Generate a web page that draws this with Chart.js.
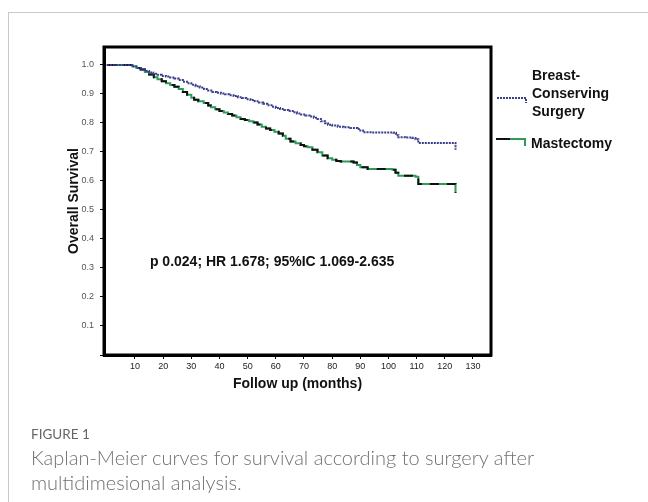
<!DOCTYPE html>
<html>
<head>
<meta charset="utf-8">
<script src="https://cdn.jsdelivr.net/npm/chart.js@4.4.1/dist/chart.umd.min.js"></script>
<style>
  html, body { margin: 0; padding: 0; background: #fff; }
  body { width: 648px; height: 502px; position: relative; overflow: hidden; }
  #frame { position: absolute; left: 8px; top: 12px; width: 700px; height: 600px; border-left: 1px solid #c8c8c8; border-top: 1px solid #c8c8c8; }
  #chart { position: absolute; left: 0; top: 0; }
  .leg { position: absolute; font: bold 14px "Liberation Sans", Arial, sans-serif; color: #111; line-height: 18px; }
  .cap1 { position: absolute; left: 31px; top: 426px; font: 13.5px "Lato", "Open Sans", sans-serif; color: #666; }
  .cap2 { position: absolute; left: 31px; top: 445px; font: 300 20px "Lato", "Open Sans", sans-serif; color: #717171; line-height: 25px; width: 580px; }
</style>
</head>
<body>
<div id="frame"></div>
<canvas id="chart" width="648" height="502"></canvas>
<div class="leg" style="left:532px; top:66px;">Breast-<br>Conserving<br>Surgery</div>
<div class="leg" style="left:531px; top:134px;">Mastectomy</div>
<div class="cap1">FIGURE 1</div>
<div class="cap2">Kaplan-Meier curves for survival according to surgery after<br>multidimesional analysis.</div>
<script>
// Kaplan-Meier curves (month, survival)
const bcsMonths = [0, 7.5, 9, 10.5, 12, 13.5, 15, 16.5, 18, 19.5, 21, 22.5, 24, 25.5, 27, 28.5, 30, 31.5, 33, 34.5, 36, 37.5, 39, 40.5, 42, 43.5, 45, 46.5, 48, 49.5, 51, 52.5, 54, 55.5, 57, 58.5, 60, 61.5, 63, 64.5, 66, 67.5, 69, 70.5, 72, 73.5, 74.8, 76, 77.5, 78.5, 80, 82, 84, 86.5, 89, 90, 91, 94, 98, 101.8, 102.7, 103.5, 106, 108.5, 109.6, 110.6, 115, 123.8, 123.8];
const bcsSurvival = [1.0, 1.0, 0.995, 0.99, 0.985, 0.979, 0.974, 0.97, 0.966, 0.962, 0.96, 0.957, 0.953, 0.948, 0.942, 0.937, 0.932, 0.927, 0.922, 0.917, 0.912, 0.907, 0.904, 0.902, 0.899, 0.896, 0.893, 0.889, 0.886, 0.882, 0.879, 0.875, 0.871, 0.866, 0.861, 0.856, 0.852, 0.848, 0.845, 0.841, 0.837, 0.833, 0.829, 0.826, 0.822, 0.818, 0.814, 0.806, 0.799, 0.794, 0.791, 0.787, 0.785, 0.783, 0.779, 0.774, 0.768, 0.767, 0.767, 0.766, 0.758, 0.751, 0.75, 0.748, 0.744, 0.731, 0.731, 0.731, 0.708];

const mastMonths = [0, 7.5, 9, 10.5, 12, 13.5, 15, 16.7, 18, 19.5, 21, 22.5, 24, 25.5, 27, 28.5, 30, 31, 32.5, 34.4, 36, 37, 38.5, 40, 41.5, 43, 44.5, 46, 47.5, 49, 50.5, 52, 53.5, 55, 56.5, 58, 59.5, 61, 62.5, 63.5, 65.2, 67, 68.8, 70, 71.3, 73, 74.8, 76.5, 78.4, 80, 81.5, 83, 87.6, 88.8, 90, 92.6, 101.4, 102.5, 103.5, 109.6, 110.6, 123.8, 123.8];
const mastSurvival = [1.0, 1.0, 0.996, 0.99, 0.984, 0.976, 0.967, 0.958, 0.951, 0.944, 0.937, 0.931, 0.925, 0.917, 0.907, 0.897, 0.887, 0.88, 0.875, 0.869, 0.86, 0.854, 0.847, 0.841, 0.836, 0.831, 0.826, 0.82, 0.814, 0.81, 0.806, 0.802, 0.795, 0.787, 0.781, 0.776, 0.77, 0.764, 0.756, 0.746, 0.736, 0.73, 0.724, 0.72, 0.716, 0.708, 0.699, 0.688, 0.678, 0.673, 0.669, 0.667, 0.664, 0.655, 0.647, 0.641, 0.639, 0.628, 0.618, 0.615, 0.59, 0.59, 0.559];

const xTicks = [10, 20, 30, 40, 50, 60, 70, 80, 90, 100, 110, 120, 130];
const yTicks = [0, 0.1, 0.2, 0.3, 0.4, 0.5, 0.6, 0.7, 0.8, 0.9, 1.0];

const statsText = "p 0.024; HR 1.678; 95%IC 1.069-2.635";
const statsAt = { x: 15.3, y: 0.32 };

function toPoints(xs, ys) {
    return xs.map((x, i) => ({ x: x, y: ys[i] }));
}

const frameBox = {
    id: "frameBox",
    afterDatasetsDraw(chart) {
        const a = chart.chartArea;
        const ctx = chart.ctx;
        ctx.save();
        ctx.strokeStyle = "#000";
        ctx.lineWidth = 3;
        ctx.strokeRect(a.left, a.top, a.right - a.left, a.bottom - a.top);
        // stats annotation
        ctx.fillStyle = "#111";
        ctx.font = "bold 14px 'Liberation Sans', Arial, sans-serif";
        ctx.textBaseline = "middle";
        ctx.fillText(statsText, chart.scales.x.getPixelForValue(statsAt.x), chart.scales.y.getPixelForValue(statsAt.y));
        ctx.restore();
    }
};

const legendMarks = {
    id: "legendMarks",
    afterDraw(chart) {
        const ctx = chart.ctx;
        ctx.save();
        ctx.lineWidth = 2;
        ctx.strokeStyle = "#3a3d8c";
        ctx.setLineDash([2, 1]);
        ctx.beginPath();
        ctx.moveTo(497, 98); ctx.lineTo(526, 98); ctx.lineTo(526, 103);
        ctx.stroke();
        ctx.setLineDash([]);
        ctx.strokeStyle = "#111";
        ctx.beginPath();
        ctx.moveTo(496, 139); ctx.lineTo(510, 139);
        ctx.stroke();
        ctx.strokeStyle = "#2f9a5a";
        ctx.beginPath();
        ctx.moveTo(510, 139); ctx.lineTo(525, 139); ctx.lineTo(525, 146);
        ctx.stroke();
        ctx.restore();
    }
};

new Chart(document.getElementById("chart"), {
    type: "line",
    data: {
        datasets: [
            {
                label: "Breast-Conserving Surgery",
                data: toPoints(bcsMonths, bcsSurvival),
                borderColor: "#3a3d8c",
                borderWidth: 2,
                borderDash: [2, 1],
                stepped: true,
                pointRadius: 0,
                fill: false,
                order: 0
            },
            {
                label: "Mastectomy (dark)",
                data: toPoints(mastMonths, mastSurvival),
                borderColor: "#111",
                borderWidth: 2,
                borderDash: [9, 8],
                stepped: true,
                pointRadius: 0,
                fill: false,
                order: 1
            },
            {
                label: "Mastectomy",
                data: toPoints(mastMonths, mastSurvival),
                borderColor: "#2f9a5a",
                borderWidth: 2,
                stepped: true,
                pointRadius: 0,
                fill: false,
                order: 2
            }
        ]
    },
    options: {
        responsive: false,
        animation: false,
        layout: { padding: { left: 64, right: 157, top: 47, bottom: 109 } },
        plugins: { legend: { display: false }, tooltip: { enabled: false } },
        scales: {
            x: {
                type: "linear",
                min: -1,
                max: 136.4,
                afterBuildTicks: s => { s.ticks = xTicks.map(v => ({ value: v })); },
                afterFit: s => { s.height = 38; },
                grid: { drawOnChartArea: false, drawTicks: true, tickLength: 4, color: "#000", lineWidth: 1 },
                border: { display: true, color: "#000", width: 3 },
                ticks: { color: "#222", padding: 2, maxRotation: 0, font: { family: "'Liberation Sans', Arial, sans-serif", size: 9 } },
                title: { display: true, text: "Follow up (months)", color: "#111", padding: 0, font: { family: "'Liberation Sans', Arial, sans-serif", size: 14, weight: "bold" } }
            },
            y: {
                type: "linear",
                min: 0,
                max: 1.062,
                afterBuildTicks: s => { s.ticks = yTicks.map(v => ({ value: v })); },
                afterFit: s => { s.width = 40; },
                grid: { drawOnChartArea: false, drawTicks: true, tickLength: 4, color: "#000", lineWidth: 1 },
                border: { display: true, color: "#000", width: 3 },
                ticks: {
                    color: "#555",
                    padding: 6,
                    font: { family: "'Liberation Sans', Arial, sans-serif", size: 9 },
                    callback: v => v === 0 ? "" : v.toFixed(1)
                },
                title: { display: true, text: "Overall Survival", color: "#111", padding: { top: 2, bottom: 0 }, font: { family: "'Liberation Sans', Arial, sans-serif", size: 14, weight: "bold" } }
            }
        }
    },
    plugins: [frameBox, legendMarks]
});
</script>
</body>
</html>
